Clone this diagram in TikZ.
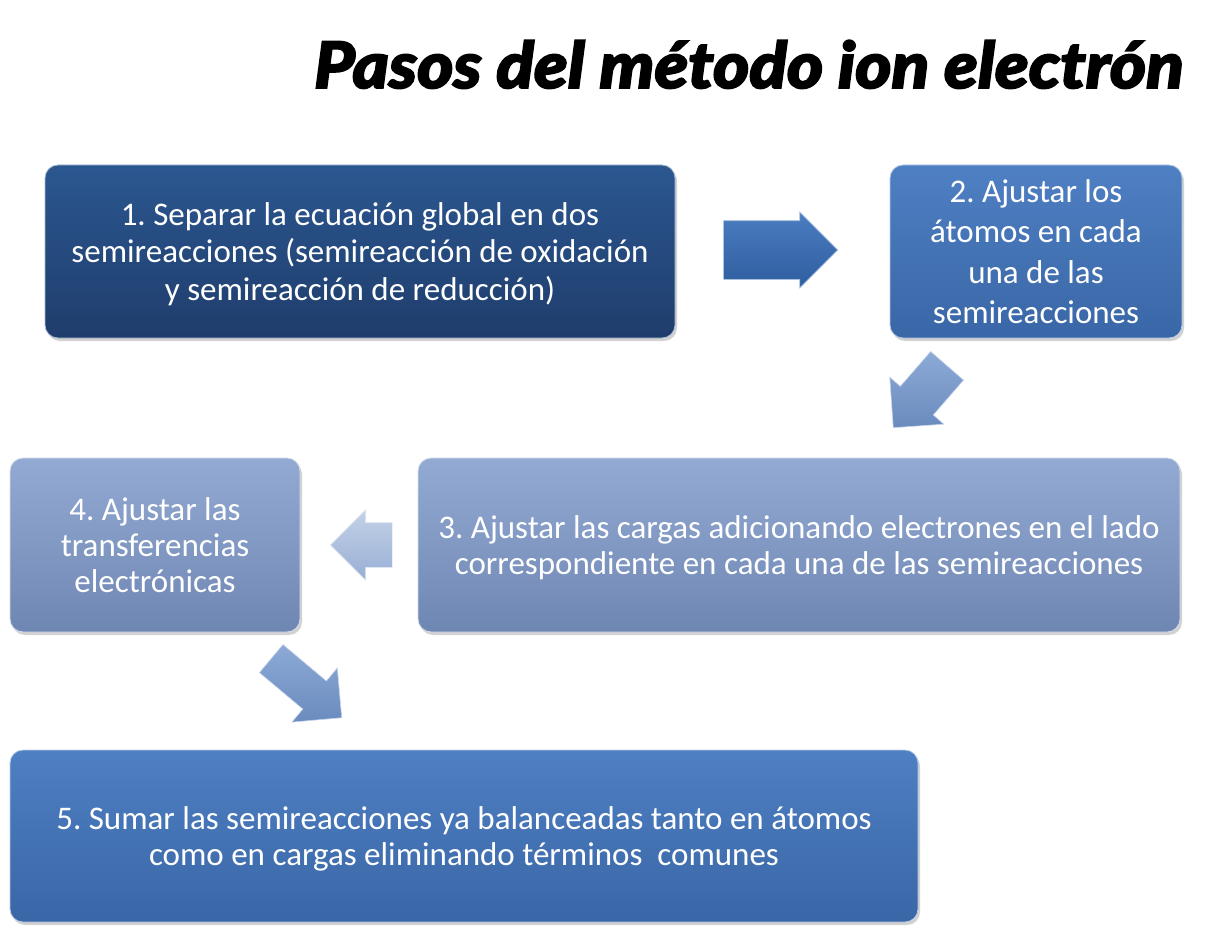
\documentclass[tikz,border=0pt]{standalone}
\usepackage{fontspec}
\setmainfont{Carlito}
\newfontfamily\titlefont{Lato Black Italic}[FakeBold=3,FakeStretch=1.08]
\usepackage{tikz}
\usetikzlibrary{shapes.arrows,shadows}

\definecolor{darkbox}{HTML}{2B5790}
\definecolor{darkboxb}{HTML}{1F3D6C}
\definecolor{midbox}{HTML}{4F80C3}
\definecolor{midboxb}{HTML}{3966A6}
\definecolor{lightbox}{HTML}{93ABD3}
\definecolor{lightboxb}{HTML}{6E86B2}
\definecolor{arrowA}{HTML}{4A7CC0}
\definecolor{arrowAb}{HTML}{2F5E9F}
\definecolor{arrowB}{HTML}{8DAAD6}
\definecolor{arrowBb}{HTML}{6A8BBE}
\definecolor{arrowC}{HTML}{C4D2E8}
\definecolor{arrowCb}{HTML}{97AED3}

\begin{document}
\frenchspacing
\begin{tikzpicture}[x=1pt,y=-1pt,
	stepbox/.style={rectangle,rounded corners=13pt,inner sep=0pt,
		text=white,align=center,font=\fontsize{33}{37.5}\selectfont,
		text depth=0pt,
		draw=white!60!#1,line width=0.8pt,
		top color=#1,bottom color=#1b,
		drop shadow={shadow xshift=2pt,shadow yshift=-3pt,opacity=0.35}},
	blockarrow/.style={single arrow,anchor=tip,inner xsep=0pt,
		single arrow head indent=0pt,draw=white!50!#1,line width=0.6pt,
		top color=#1,bottom color=#1b}]
		\useasboundingbox[fill=white] (0,0) rectangle (1222,936);
		\node[anchor=base east,font=\titlefont\fontsize{64}{70}\selectfont] (title)
		at (1187,88) {Pasos del método ion electrón};
		\node[stepbox=darkbox,minimum width=630pt,minimum height=173pt] (paso1)
		at (360,251.5) {1. Separar la ecuación global en dos\\
		semireacciones (semireacción de oxidación\\
		y semireacción de reducción)};
		\node[stepbox=midbox,minimum width=292pt,minimum height=173pt,
		font=\fontsize{33}{40.5}\selectfont] (paso2)
		at (1036,251.5) {2. Ajustar los\\átomos en cada\\una de las\\semireacciones};
		\node[stepbox=lightbox,minimum width=762pt,minimum height=174pt,
		font=\fontsize{33}{36}\selectfont] (paso3)
		at (799,545) {3. Ajustar las cargas adicionando electrones en el lado\\
		correspondiente en cada una de las semireacciones};
		\node[stepbox=lightbox,minimum width=290pt,minimum height=174pt,
		font=\fontsize{33}{36}\selectfont] (paso4)
		at (155,545) {4. Ajustar las\\transferencias\\electrónicas};
		\node[stepbox=midbox,minimum width=908pt,minimum height=172pt,
		font=\fontsize{33}{36}\selectfont] (paso5)
		at (464,836) {5. Sumar las semireacciones ya balanceadas tanto en átomos\\
		como en cargas eliminando términos \ comunes};
		\node[blockarrow=arrowA,minimum height=114pt,inner ysep=29pt,
		single arrow head extend=8.5pt] (flecha12) at (838,250) {};
		\node[blockarrow=arrowB,minimum height=82pt,inner ysep=21.5pt,
		single arrow head extend=14pt,rotate=229] (flecha23) at (893,428) {};
		\node[blockarrow=arrowC,minimum height=62pt,inner ysep=22pt,
		single arrow head extend=13pt,rotate=180] (flecha34) at (330,545) {};
		\node[blockarrow=arrowB,minimum height=92pt,inner ysep=18pt,
		single arrow head extend=17pt,rotate=-40] (flecha45) at (342,718) {};
\end{tikzpicture}
\end{document}
